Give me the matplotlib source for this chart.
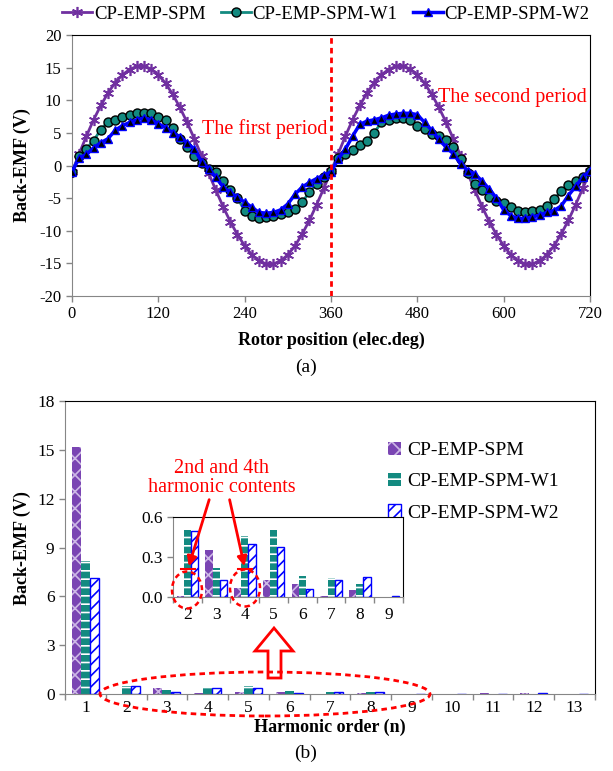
import numpy as np
import matplotlib
matplotlib.use("Agg")
import matplotlib.pyplot as plt
from matplotlib.patches import Ellipse, Polygon, FancyArrowPatch
from matplotlib.lines import Line2D

plt.rcParams['font.family'] = ['Liberation Serif', 'DejaVu Serif']
plt.rcParams['hatch.linewidth'] = 1.2
plt.rcParams['axes.unicode_minus'] = False

W, H = 613, 771

# ---- (a) back-EMF waveforms ----
angle = list(range(0, 721, 10))
emf_spm = [-1.0, 1.8, 4.5, 7.0, 9.2, 11.1, 12.7, 13.9, 14.7, 15.2, 15.2, 14.8, 13.9, 12.6, 10.9, 8.9, 6.6, 4.1, 1.5,
           -1.2, -3.8, -6.3, -8.6, -10.6, -12.3, -13.7, -14.6, -15.1, -15.1, -14.6, -13.7, -12.3, -10.5, -8.4, -6.0, -3.5, -0.9,
           1.8, 4.5, 7.0, 9.2, 11.1, 12.7, 13.9, 14.7, 15.2, 15.2, 14.8, 13.9, 12.6, 10.9, 8.9, 6.6, 4.1, 1.5,
           -1.2, -3.8, -6.3, -8.6, -10.6, -12.3, -13.7, -14.6, -15.1, -15.1, -14.6, -13.7, -12.3, -10.5, -8.4, -6.0, -3.5, -0.9]
emf_w1 = [-1.0, 1.5, 2.6, 3.8, 5.5, 6.7, 7.0, 7.5, 7.8, 8.0, 8.0, 8.0, 7.5, 6.9, 5.7, 4.1, 2.8, 1.4, 0.4,
          -0.6, -1.0, -2.3, -3.7, -5.0, -6.9, -7.7, -8.0, -7.9, -7.8, -7.4, -7.1, -6.7, -5.6, -4.1, -2.8, -1.8, -0.8,
          1.2, 1.8, 2.3, 3.1, 3.8, 5.0, 6.6, 7.0, 7.3, 7.3, 6.9, 6.1, 5.6, 4.9, 4.5, 3.9, 2.8, 1.0,
          -1.2, -2.8, -3.8, -4.8, -5.4, -5.8, -6.4, -6.9, -7.2, -7.0, -6.8, -6.2, -5.2, -3.9, -3.0, -2.4, -1.7, -0.9]
emf_w2 = [-1.0, 1.2, 1.7, 2.7, 3.5, 4.1, 5.4, 6.1, 6.6, 7.0, 7.3, 7.0, 6.4, 5.8, 5.0, 4.4, 3.5, 2.5, 0.6,
          -0.5, -1.8, -3.3, -4.1, -4.9, -5.6, -6.4, -7.2, -7.3, -7.2, -6.8, -5.9, -4.4, -3.3, -2.6, -2.0, -1.5, -1.0,
          1.0, 2.5, 4.5, 6.3, 6.8, 7.0, 7.3, 7.7, 7.9, 8.0, 8.0, 7.8, 6.6, 5.4, 4.0, 2.8, 1.8, 0.3,
          -0.8, -1.3, -2.4, -3.6, -5.0, -6.8, -7.7, -8.1, -8.1, -7.9, -7.6, -7.2, -6.9, -6.2, -4.6, -3.2, -1.8, -0.8]

# ---- (b) harmonic spectrum ----
orders = list(range(1, 14))
harm_spm = [15.2, 0.01, 0.355, 0.07, 0.13, 0.10, 0.01, 0.055, 0.0, 0.03, 0.04, 0.05, 0.02]
harm_w1 = [8.2, 0.505, 0.22, 0.46, 0.505, 0.155, 0.14, 0.10, 0.003, 0.01, 0.01, 0.01, 0.0]
harm_w2 = [7.15, 0.495, 0.13, 0.395, 0.375, 0.06, 0.13, 0.15, 0.005, 0.03, 0.03, 0.06, 0.03]
names = ['CP-EMP-SPM', 'CP-EMP-SPM-W1', 'CP-EMP-SPM-W2']

purple = '#7030A0'
bar_purple = '#7A45B3'
teal = '#138A80'
blue = '#0000FF'
grey = '#868686'


def fx(x):
    return x / W


def fy(y):
    return 1 - y / H


def style_axes(ax):
    for s in ['left', 'bottom']:
        ax.spines[s].set_color(grey)
    for s in ['top', 'right']:
        ax.spines[s].set_color('black')
    ax.tick_params(direction='out', color=grey, length=4, width=1)


def draw_bars(ax, pos, a, b, c, bw, labels=None):
    labels = labels or [None, None, None]
    ax.bar(pos - bw, a, bw, color=bar_purple, hatch='xx', edgecolor='#CDB8E6', lw=0, label=labels[0])
    ax.bar(pos, b, bw, color=teal, hatch='--', edgecolor='white', lw=0, label=labels[1])
    ax.bar(pos + bw, c, bw, color='white', hatch='///', edgecolor=blue, lw=1, label=labels[2])


def place_labels(ax, xl_pos, yl_pos):
    ax.xaxis.set_label_coords(fx(xl_pos[0]), fy(xl_pos[1]), transform=fig.transFigure)
    ax.xaxis.label.set_va('center')
    ax.yaxis.set_label_coords(fx(yl_pos[0]), fy(yl_pos[1]), transform=fig.transFigure)
    ax.yaxis.label.set_va('center')


fig = plt.figure(figsize=(W / 100, H / 100), dpi=100)

ax1 = fig.add_axes([fx(72), fy(296), fx(590 - 72), (296 - 35) / H])
style_axes(ax1)
ax1.plot(angle, emf_spm, color=purple, lw=2, marker=(6, 2, 0), ms=8, mew=1.2, label=names[0], zorder=3)
ax1.plot(angle, emf_w1, color=teal, lw=2, marker='o', ms=6.5, mfc=teal, mec='black', mew=1, label=names[1], zorder=4)
ax1.plot(angle, emf_w2, color=blue, lw=2.5, marker='^', ms=6, mfc='black', mec=blue, mew=1, label=names[2], zorder=5)
ax1.axhline(0, color='black', lw=1.5, zorder=2)
ax1.axvline(360, color='red', lw=2, ls=(0, (2, 1.5)), zorder=6)
ax1.set_xlim(0, 720)
ax1.set_ylim(-20, 20)
ax1.set_xticks(range(0, 721, 120))
ax1.set_yticks(range(-20, 21, 5))
ax1.tick_params(labelsize=12)
ax1.set_ylabel('Back-EMF (V)', fontsize=13, fontweight='bold')
ax1.set_xlabel('Rotor position (elec.deg)', fontsize=13, fontweight='bold')
place_labels(ax1, (331, 340), (22, 165))
ax1.text(268, 5.6, 'The first period', color='red', fontsize=14.5, ha='center', va='center')
ax1.text(612, 10.4, 'The second period', color='red', fontsize=14.5, ha='center', va='center')
ax1.legend(loc='center', bbox_to_anchor=(fx(326), fy(14)), bbox_transform=fig.transFigure, ncol=3,
           frameon=False, fontsize=13.5, handlelength=1.6, handletextpad=0.1, columnspacing=0.8,
           borderpad=0.1)
fig.text(fx(306), fy(367), '(a)', ha='center', va='center', fontsize=14)

# bar chart
ax2 = fig.add_axes([fx(65), fy(694), fx(595 - 65), (694 - 401) / H])
style_axes(ax2)
pos = np.array(orders)
draw_bars(ax2, pos, harm_spm, harm_w1, harm_w2, 0.22, names)
ax2.set_xlim(0.5, 13.5)
ax2.set_ylim(0, 18)
ax2.set_yticks(range(0, 19, 3))
ax2.set_xticks(np.arange(0.5, 14, 1))
ax2.set_xticklabels([])
ax2.set_xticks(pos, minor=True)
ax2.set_xticklabels([str(o) for o in orders], minor=True)
ax2.tick_params(axis='x', which='minor', length=0, pad=4)
ax2.tick_params(which='both', labelsize=12.5)
ax2.set_ylabel('Back-EMF (V)', fontsize=13, fontweight='bold')
ax2.set_xlabel('Harmonic order (n)', fontsize=13, fontweight='bold')
place_labels(ax2, (330, 727), (22, 548))
ax2.legend(loc='upper left', bbox_to_anchor=(fx(370), fy(424)), bbox_transform=fig.transFigure,
           frameon=False, fontsize=14, handlelength=0.7, handleheight=0.7, handletextpad=0.3, labelspacing=0.7)
fig.text(fx(306), fy(753), '(b)', ha='center', va='center', fontsize=14)

# inset for orders 2..9
ins_orders = orders[1:9]
ax3 = fig.add_axes([fx(173), fy(597), fx(403 - 173), (597 - 517) / H])
style_axes(ax3)
ip = np.array(ins_orders)
draw_bars(ax3, ip, harm_spm[1:9], harm_w1[1:9], harm_w2[1:9], 0.25)
ax3.set_xlim(1.5, 9.5)
ax3.set_ylim(0, 0.6)
ax3.set_yticks([0.0, 0.3, 0.6])
ax3.set_yticklabels(['0.0', '0.3', '0.6'])
ax3.set_xticks(np.arange(1.5, 10, 1))
ax3.set_xticklabels([])
ax3.set_xticks(ip, minor=True)
ax3.set_xticklabels([str(o) for o in ins_orders], minor=True)
ax3.tick_params(axis='x', which='minor', length=0, pad=7)
ax3.tick_params(which='both', labelsize=12.5)

# annotations (figure coordinates)
fig.text(fx(222), fy(478), '2nd and 4th\nharmonic contents', color='red', fontsize=14.5,
         ha='center', va='center', linespacing=1.05)
for (x0, y0), (x1, y1) in [((210, 497), (188, 569)), ((229, 497), (245, 569))]:
    fig.add_artist(FancyArrowPatch((fx(x0), fy(y0)), (fx(x1), fy(y1)), transform=fig.transFigure,
                                   arrowstyle='-|>', mutation_scale=14, color='red', lw=2))
    fig.add_artist(Line2D([fx(x1 - 7), fx(x1 + 7)], [fy(y1), fy(y1)], transform=fig.transFigure,
                          color='red', lw=1.5))
for cx, cy in [(187, 590), (245, 588)]:
    fig.add_artist(Ellipse((fx(cx), fy(cy)), fx(30), 37 / H, transform=fig.transFigure,
                           fill=False, edgecolor='red', lw=1.8, ls=(0, (2, 1.5))))
fig.add_artist(Ellipse((fx(265), fy(694)), fx(330), 44 / H, transform=fig.transFigure,
                       fill=False, edgecolor='red', lw=2, ls=(0, (2, 1.5))))
arrow_pts = [(268, 678), (281, 678), (281, 651), (293, 651), (274, 628), (255, 651), (268, 651)]
fig.add_artist(Polygon([(fx(a), fy(b)) for a, b in arrow_pts], closed=True, transform=fig.transFigure,
                       fill=False, edgecolor='red', lw=2))

fig.savefig('out.png', dpi=100)
